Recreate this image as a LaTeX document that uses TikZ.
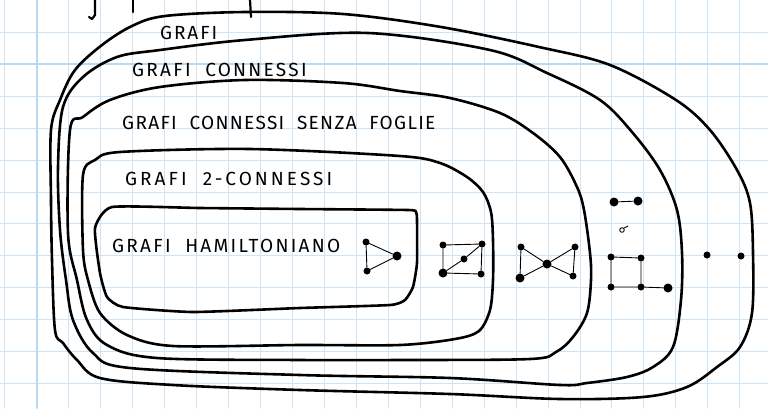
\documentclass[tikz,border=0pt]{standalone}
\usepackage{fontspec}
\setsansfont{Fira Sans}
\definecolor{gridblue}{RGB}{206,227,243}
\begin{document}
\begin{tikzpicture}[x=1pt, y=-1pt, line join=round, line cap=round,
    region/.style={draw, line width=2.6pt},
    txt/.style={anchor=west, inner sep=0pt, font=\sffamily\fontsize{19}{19}\selectfont},
    dot/.style={circle, fill, inner sep=0pt, minimum size=7pt},
    bigdot/.style={dot, minimum size=9pt},
    edge/.style={line width=0.9pt}]
    \fill[white] (0,0) rectangle (768,408);
    \useasboundingbox (0,0) rectangle (768,408);
    % squared paper
    \foreach \i in {0,...,24}
        \draw[gridblue, line width=1pt] ({4.9+31.95*\i},0) -- ({4.9+31.95*\i},408);
    \foreach \j in {1,...,12}
        \draw[gridblue, line width=1pt] (0,{0.3+31.95*\j}) -- (768,{0.3+31.95*\j});
    \draw[gridblue!140, line width=1.6pt] (36.8,0) -- (36.8,408);
    \draw[gridblue!140, line width=1.6pt] (0,64.2) -- (768,64.2);
    % bits of the line above
    \draw[line width=2.2pt] (95,0) -- (95,15) -- (92,19) -- (89,17);
    \draw[line width=2.2pt] (133,0) -- (133,12);
    \draw[line width=2.2pt] (250,0) -- (251,17);
    % regions
    \draw[region] plot[smooth cycle, tension=0.55] coordinates {
        (165,16) (245,12) (343,14) (441,27) (539,47) (610,65) (676,100) (710,130)
        (737,170) (750,203) (753,253) (752,313) (740,347) (717,367) (687,387)
        (643,397) (560,399) (450,394) (300,390) (173,385) (100,378) (77,360)
        (63,343) (55,330) (52,260) (51,200) (51,130) (60,100) (75,70) (102,45) (132,26)};
    \draw[region] plot[smooth cycle, tension=0.55] coordinates {
        (160,50) (245,40) (368,33) (490,50) (547,73) (600,100) (632,132) (660,170)
        (677,210) (682,253) (681,300) (673,347) (653,367) (627,377) (587,383)
        (560,385) (450,378) (300,375) (130,368) (93,353) (73,320) (66,280)
        (60,230) (58,167) (63,107) (83,77) (117,57)};
    \draw[region] plot[smooth cycle, tension=0.55] coordinates {
        (160,87) (245,80) (343,83) (400,91) (450,98) (500,113) (533,133) (560,157)
        (577,187) (584,210) (590,253) (591,280) (587,313) (573,337) (556,352)
        (530,359) (400,360) (300,360) (157,358) (107,345) (87,320) (77,280)
        (68,233) (70,130) (83,117) (110,100)};
    \draw[region] plot[smooth cycle, tension=0.5] coordinates {
        (120,152) (250,149) (400,156) (440,163) (467,177) (483,192) (491,212)
        (493,240) (493,280) (490,310) (479,331) (455,339) (400,345) (300,345)
        (173,346) (127,335) (100,313) (88,280) (83,250) (83,175) (95,160)};
    \draw[region] plot[smooth cycle, tension=0.3] coordinates {
        (112,207) (200,208) (300,209) (408,210) (416,212) (417,220) (417,263) (413,287)
        (405,300) (390,305) (300,308) (193,312) (123,307) (107,297) (100,273)
        (95,228)};
    % labels
    \node[txt] (grafi) at (160,33) {\addfontfeature{LetterSpace=10}GRAFI};
    \node[txt] (conn) at (132,70) {\addfontfeature{LetterSpace=12}GRAFI \ CONNESSI};
    \node[txt] (senza) at (122,123) {\addfontfeature{LetterSpace=7}GRAFI \ CONNESSI \ SENZA \ FOGLIE};
    \node[txt] (bicon) at (125,179) {\addfontfeature{LetterSpace=16}GRAFI \ 2-CONNESSI};
    \node[txt] (hamil) at (112,246) {\addfontfeature{LetterSpace=12}GRAFI \ HAMILTONIANO};
    % triangle
    \node[dot] (ta) at (366,242) {};
    \node[bigdot] (tb) at (397,256) {};
    \node[dot] (tc) at (367,271) {};
    \draw[edge] (ta) -- (tb) -- (tc) -- (ta);
    % rectangle with a diagonal
    \node[dot] (ra) at (443,245) {};
    \node[dot] (rb) at (482,244) {};
    \node[dot] (rm) at (464,259) {};
    \node[bigdot] (rc) at (443,273) {};
    \node[dot] (rd) at (481,274) {};
    \draw[edge] (ra) -- (rb) -- (rd) -- (rc) -- (ra);
    \draw[edge] (rc) -- (rm) -- (rb);
    % bow tie
    \node[dot] (ba) at (521,247) {};
    \node[dot] (bb) at (575,247) {};
    \node[bigdot] (bm) at (547,264) {};
    \node[bigdot] (bc) at (520,278) {};
    \node[dot] (bd) at (573,276) {};
    \draw[edge] (ba) -- (bm) -- (bc) -- (ba);
    \draw[edge] (bb) -- (bm) -- (bd) -- (bb);
    % connected, with leaves
    \node[bigdot] (ea) at (614,202) {};
    \node[bigdot] (eb) at (638,201) {};
    \draw[edge] (ea) -- (eb);
    \draw[line width=0.9pt] (622,230) circle (2.3);
    \draw[line width=0.9pt] (624,228) -- (628,226);
    \node[dot] (qa) at (611,257) {};
    \node[dot] (qb) at (641,258) {};
    \node[dot] (qc) at (611,287) {};
    \node[dot] (qd) at (641,287) {};
    \node[bigdot] (qe) at (668,288) {};
    \draw[edge] (qa) -- (qb) -- (qd) -- (qc) -- (qa);
    \draw[edge] (qd) -- (qe);
    % two lone vertices
    \node[dot] (la) at (707,255) {};
    \node[dot] (lb) at (741,256) {};
\end{tikzpicture}
\end{document}
